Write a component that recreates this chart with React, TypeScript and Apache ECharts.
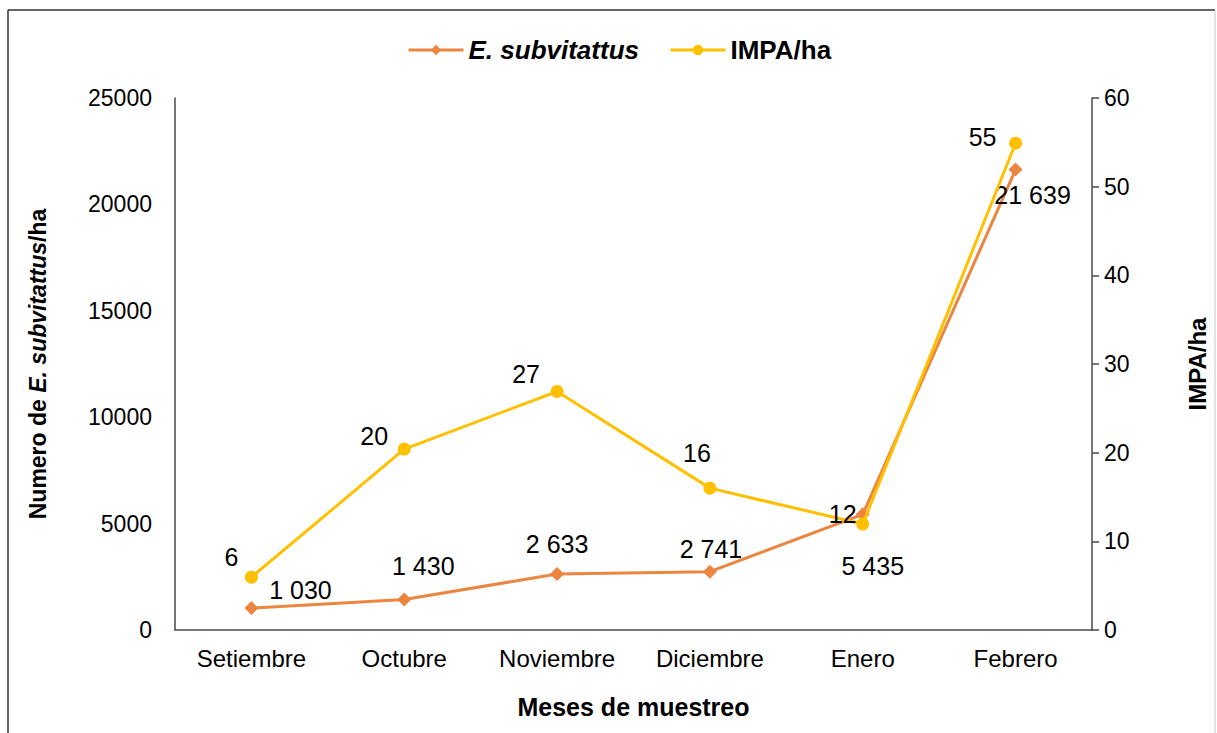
import React, { useEffect, useRef } from "react";
import * as echarts from "echarts";

const months = ["Setiembre", "Octubre", "Noviembre", "Diciembre", "Enero", "Febrero"];
const subvitattus = [1030, 1430, 2633, 2741, 5435, 21639];
const impa = [5.95, 20.4, 26.9, 16.0, 11.95, 54.9];
const leftTicks = { min: 0, max: 25000, interval: 5000 };
const rightTicks = { min: 0, max: 60, interval: 10 };

// label offsets (layout only)
const subLabelOffsets: [number, number][] = [
  [49, -18], [19, -34], [0, -30], [1, -23], [10, 52], [17, 25],
];
const impaLabelOffsets: [number, number][] = [
  [-20, -20], [-30, -13], [-31, -17], [-13, -35], [-20, -10], [-33, -6],
];

const FONT = "'Liberation Sans', Arial, sans-serif";
const ORANGE = "#EB8540";
const YELLOW = "#FFC000";
const AXIS = "#4a4a4a";

function fmtThousands(v: number): string {
  return String(Math.round(v)).replace(/\B(?=(\d{3})+(?!\d))/g, " ");
}

export default function App() {
  const ref = useRef<HTMLDivElement>(null);
  useEffect(() => {
    if (!ref.current) return;
    const chart = echarts.init(ref.current, null, { renderer: "svg" });
    const option: any = {
      animation: false,
      backgroundColor: "#ffffff",
      textStyle: { fontFamily: FONT, color: "#000" },
      graphic: [
        { type: "line", shape: { x1: 8, y1: 10, x2: 1215, y2: 10 }, style: { stroke: "#333", lineWidth: 1.5 } },
        { type: "line", shape: { x1: 8, y1: 10, x2: 8, y2: 733 }, style: { stroke: "#333", lineWidth: 1.5 } },
        { type: "line", shape: { x1: 1215, y1: 10, x2: 1215, y2: 733 }, style: { stroke: "#c8c8c8", lineWidth: 1 } },
      ],
      legend: {
        top: 32,
        left: 402,
        itemWidth: 55,
        itemHeight: 13,
        itemGap: 30,
        lineStyle: { width: 3 },
        textStyle: {
          fontFamily: FONT,
          fontSize: 26,
          fontWeight: "bold",
          color: "#000",
          rich: {
            i: { fontFamily: FONT, fontSize: 26, fontWeight: "bold", fontStyle: "italic", color: "#000" },
            b: { fontFamily: FONT, fontSize: 26, fontWeight: "bold", color: "#000" },
          },
        },
        formatter: (name: string) => (name === "E. subvitattus" ? `{i|${name}}` : `{b|${name}}`),
        data: ["E. subvitattus", "IMPA/ha"],
      },
      grid: { left: 175, right: 119, top: 98, bottom: 103 },
      xAxis: {
        type: "category",
        data: months,
        boundaryGap: true,
        axisLine: { show: true, lineStyle: { color: AXIS, width: 1.5 } },
        axisTick: { show: false },
        axisLabel: { fontFamily: FONT, fontSize: 24, color: "#000", margin: 16, interval: 0 },
        name: "Meses de muestreo",
        nameLocation: "middle",
        nameGap: 64,
        nameTextStyle: { fontFamily: FONT, fontSize: 25, fontWeight: "bold", color: "#000" },
      },
      yAxis: [
        {
          type: "value",
          min: leftTicks.min,
          max: leftTicks.max,
          interval: leftTicks.interval,
          position: "left",
          axisLine: { show: true, lineStyle: { color: AXIS, width: 1.5 } },
          axisTick: { show: false },
          splitLine: { show: false },
          axisLabel: {
            fontFamily: FONT,
            fontSize: 23,
            color: "#000",
            margin: 23,
            formatter: (v: number) => String(v),
          },
          name: "Numero de {i|E. subvitattus}/ha",
          nameLocation: "middle",
          nameRotate: 90,
          nameGap: 126,
          nameTextStyle: {
            fontFamily: FONT,
            fontSize: 23,
            fontWeight: "bold",
            color: "#000",
            rich: {
              i: { fontFamily: FONT, fontSize: 23, fontWeight: "bold", fontStyle: "italic", color: "#000" },
            },
          },
        },
        {
          type: "value",
          min: rightTicks.min,
          max: rightTicks.max,
          interval: rightTicks.interval,
          position: "right",
          axisLine: { show: true, lineStyle: { color: AXIS, width: 1.5 } },
          axisTick: { show: true, inside: false, length: 7, lineStyle: { color: AXIS, width: 1.5 } },
          splitLine: { show: false },
          axisLabel: {
            fontFamily: FONT,
            fontSize: 23,
            color: "#000",
            margin: 12,
            formatter: (v: number) => String(v),
          },
          name: "IMPA/ha",
          nameLocation: "middle",
          nameRotate: 90,
          nameGap: 93,
          nameTextStyle: { fontFamily: FONT, fontSize: 24, fontWeight: "bold", color: "#000" },
        },
      ],
      series: [
        {
          name: "E. subvitattus",
          type: "line",
          yAxisIndex: 0,
          symbol: "diamond",
          symbolSize: 14,
          lineStyle: { color: ORANGE, width: 3 },
          itemStyle: { color: ORANGE },
          data: subvitattus.map((v, i) => ({
            value: v,
            label: { offset: subLabelOffsets[i] },
          })),
          label: {
            show: true,
            position: "inside",
            fontFamily: FONT,
            fontSize: 25,
            color: "#000",
            formatter: (p: any) => fmtThousands(p.value),
          },
          z: 2,
        },
        {
          name: "IMPA/ha",
          type: "line",
          yAxisIndex: 1,
          symbol: "circle",
          symbolSize: 13,
          lineStyle: { color: YELLOW, width: 3 },
          itemStyle: { color: YELLOW },
          data: impa.map((v, i) => ({
            value: v,
            label: { offset: impaLabelOffsets[i] },
          })),
          label: {
            show: true,
            position: "inside",
            fontFamily: FONT,
            fontSize: 25,
            color: "#000",
            formatter: (p: any) => String(Math.round(p.value)),
          },
          z: 3,
        },
      ],
    };
    chart.setOption(option);
    return () => chart.dispose();
  }, []);
  return (
    <div
      ref={ref}
      style={{ position: "fixed", left: 0, top: 0, width: 1217, height: 733, background: "#fff" }}
    />
  );
}
